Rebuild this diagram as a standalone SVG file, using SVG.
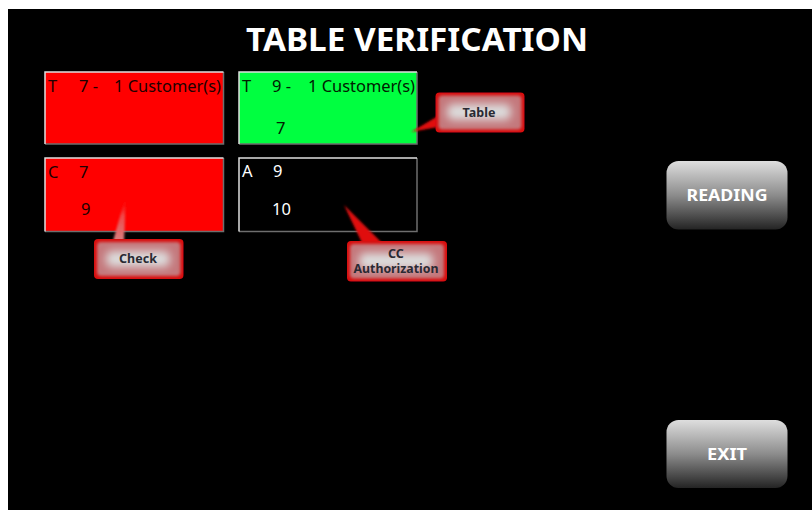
<svg xmlns="http://www.w3.org/2000/svg" width="812" height="510" viewBox="0 0 812 510">
<defs>
<linearGradient id="btn" x1="0" y1="0" x2="0" y2="1"><stop offset="0" stop-color="#dedede"/><stop offset="0.5" stop-color="#8c8c8c"/><stop offset="1" stop-color="#242424"/></linearGradient>
<filter id="soft" x="-30%" y="-60%" width="160%" height="220%"><feGaussianBlur stdDeviation="4"/></filter>
<filter id="edge" x="-10%" y="-20%" width="120%" height="140%"><feGaussianBlur stdDeviation="0.6"/></filter>
<filter id="band" x="-20%" y="-40%" width="140%" height="180%"><feGaussianBlur stdDeviation="1.8"/></filter>
<filter id="tb" x="-50%" y="-20%" width="200%" height="140%"><feGaussianBlur stdDeviation="0.8"/></filter>
<linearGradient id="tailCheck" x1="0" y1="0" x2="0" y2="1"><stop offset="0" stop-color="#ff0000" stop-opacity="0"/><stop offset="0.45" stop-color="#f04848"/><stop offset="1" stop-color="#d88080"/></linearGradient>
</defs>
<style>
text{font-family:"Noto Sans","DejaVu Sans",sans-serif}
.lo{fill:none;stroke:#6e6e6e;stroke-width:1.5}
.hi{fill:none;stroke:#e0e0e0;stroke-width:1.5}
.t{font-size:16.500px}
.k{fill:#200000}
.g{fill:#002000}
.w{fill:#fff}
.call{font-size:12.500px;font-weight:700;fill:#2a2a33;text-anchor:middle}
.btn{font-size:16.500px;font-weight:700;fill:#fff;text-anchor:middle}
.red{fill:#d80a10}
.pink{fill:#c4787c}
.glow{fill:#dcdcdc}
</style>
<rect x="0" y="0" width="812" height="510" fill="#fff"/>
<rect x="8" y="9" width="804" height="501" fill="#000"/>
<text x="417" y="51" font-size="32" font-weight="700" fill="#fff" text-anchor="middle" textLength="342" lengthAdjust="spacingAndGlyphs">TABLE VERIFICATION</text>

<g id="tile-t7">
<rect x="45" y="72" width="178.500" height="72" fill="#ff0000"/>
<path class="lo" d="M223.500 72V144H45"/><path class="hi" d="M45 144V72H223.500"/>
<text class="t k" x="48" y="92">T</text><text class="t k" x="79" y="92">7 -</text>
<text class="t k" x="114" y="92" textLength="107" lengthAdjust="spacingAndGlyphs">1 Customer(s)</text>
</g>
<g id="tile-t9">
<rect x="239" y="72" width="178" height="72" fill="#00ff40"/>
<path class="lo" d="M417 72V144H239"/><path class="hi" d="M239 144V72H417"/>
<text class="t g" x="242" y="92">T</text><text class="t g" x="272" y="92">9 -</text>
<text class="t g" x="308" y="92" textLength="107" lengthAdjust="spacingAndGlyphs">1 Customer(s)</text>
<text class="t g" x="276" y="134">7</text>
</g>
<g id="tile-c7">
<rect x="45" y="158" width="178.500" height="73.500" fill="#ff0000"/>
<path class="lo" d="M223.500 158V231.500H45"/><path class="hi" d="M45 231.500V158H223.500"/>
<text class="t k" x="48" y="178">C</text><text class="t k" x="79" y="178">7</text>
<text class="t k" x="81" y="215">9</text>
</g>
<g id="tile-a9">
<rect x="239" y="158" width="178" height="73.500" fill="#000"/>
<path class="lo" d="M417 158V231.500H239"/><path class="hi" d="M239 231.500V158H417"/>
<text class="t w" x="242" y="177">A</text><text class="t w" x="273" y="177">9</text>
<text class="t w" x="272" y="215">10</text>
</g>

<g id="connectors">
<path d="M126 195L124 241L113 241Z" fill="url(#tailCheck)" filter="url(#tb)"/>
<path d="M411 132L438 116L438 127Z" fill="#e01010" filter="url(#tb)"/>
<path d="M344 205L382 243L362 243Z" fill="#e01010" filter="url(#tb)"/>
</g>

<g id="callout-table">
<rect x="435.500" y="92.500" width="89" height="40" rx="4" class="red" filter="url(#edge)"/>
<rect x="438.500" y="95.500" width="83" height="34" rx="4" class="pink" filter="url(#band)"/>
<rect x="447" y="104" width="64" height="16" rx="6" class="glow" filter="url(#soft)"/>
<text class="call" x="479" y="116.500">Table</text>
</g>
<g id="callout-check">
<rect x="94" y="239" width="89.500" height="40" rx="4" class="red" filter="url(#edge)"/>
<rect x="97" y="242" width="83.500" height="34" rx="4" class="pink" filter="url(#band)"/>
<rect x="106" y="251" width="64" height="16" rx="6" class="glow" filter="url(#soft)"/>
<text class="call" x="138" y="263">Check</text>
</g>
<g id="callout-cc">
<rect x="347" y="241" width="100" height="40.500" rx="4" class="red" filter="url(#edge)"/>
<rect x="350" y="244" width="94" height="34.500" rx="4" class="pink" filter="url(#band)"/>
<rect x="359" y="253" width="74" height="16" rx="6" class="glow" filter="url(#soft)"/>
<text class="call" x="396" y="257.500">CC</text>
<text class="call" x="396" y="273" textLength="85" lengthAdjust="spacingAndGlyphs">Authorization</text>
</g>

<g id="btn-reading">
<rect x="666.500" y="161" width="121" height="68.500" rx="12" fill="url(#btn)"/>
<text class="btn" x="727" y="201" textLength="81" lengthAdjust="spacingAndGlyphs">READING</text>
</g>
<g id="btn-exit">
<rect x="666.500" y="420" width="121" height="68" rx="12" fill="url(#btn)"/>
<text class="btn" x="727" y="460" textLength="40" lengthAdjust="spacingAndGlyphs">EXIT</text>
</g>
</svg>
